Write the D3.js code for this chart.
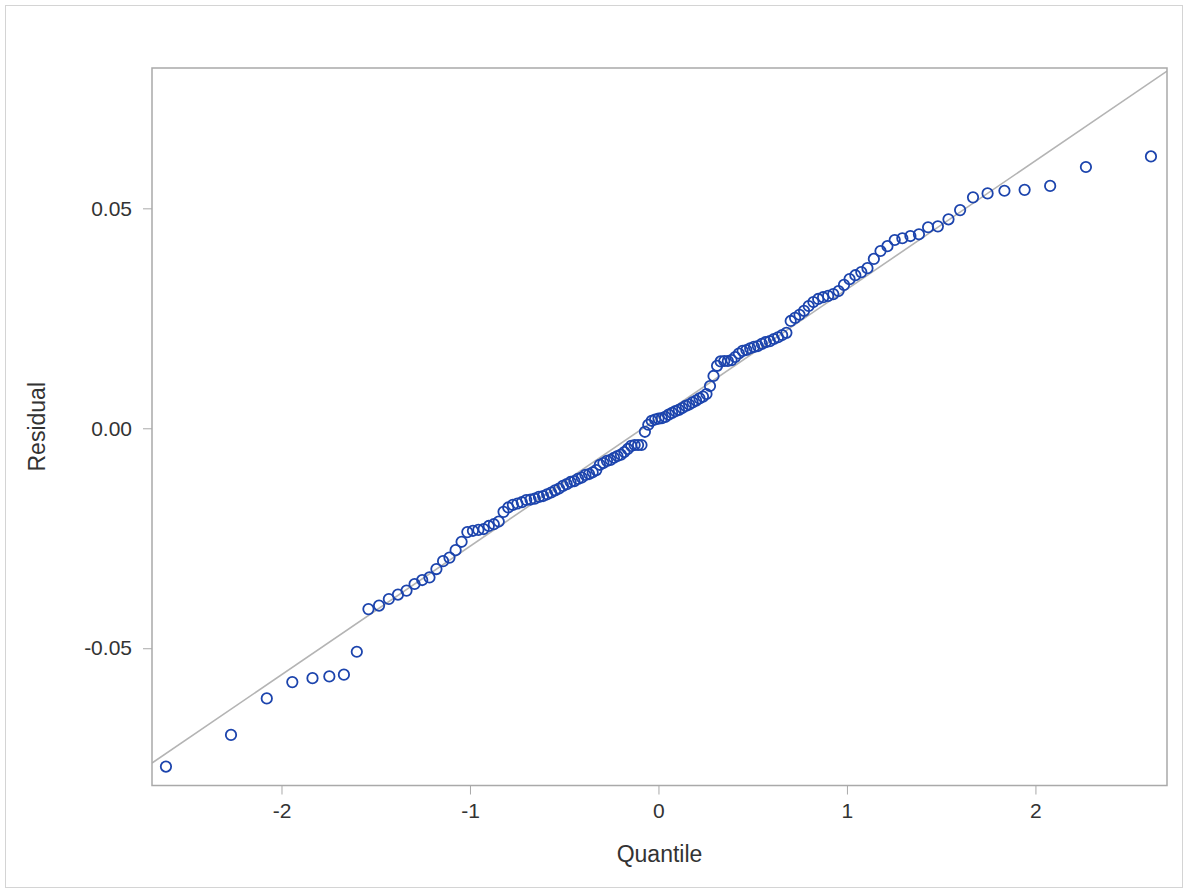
<!DOCTYPE html>
<html>
<head>
<meta charset="utf-8">
<script src="https://cdn.jsdelivr.net/npm/d3@7"></script>
<style>
  body { margin: 0; background: #fff; }
  .tickText { font-family: "Liberation Sans", Arial, sans-serif; font-size: 21px; fill: #333; }
  .labelText { font-family: "Liberation Sans", Arial, sans-serif; font-size: 23px; fill: #333; }
</style>
</head>
<body>
<div id="qq"></div>
<script>
// sorted residuals (139 obs)
var residuals = [
  -0.0769, -0.0697, -0.0614, -0.0577, -0.0568, -0.0564, -0.0560, -0.0508, -0.0411, -0.0403,
  -0.0388, -0.0378, -0.0369, -0.0354, -0.0345, -0.0339, -0.0320, -0.0302, -0.0294, -0.0277,
  -0.0258, -0.0236, -0.0233, -0.0231, -0.0229, -0.0222, -0.0218, -0.0212, -0.0190, -0.0180,
  -0.0174, -0.0171, -0.0168, -0.0163, -0.0162, -0.0160, -0.0156, -0.0154, -0.0150, -0.0146,
  -0.0141, -0.0137, -0.0131, -0.0127, -0.0122, -0.0120, -0.0115, -0.0112, -0.0106, -0.0104,
  -0.0100, -0.0095, -0.0083, -0.0079, -0.0074, -0.0072, -0.0067, -0.0063, -0.0060, -0.0054,
  -0.0047, -0.0040, -0.0038, -0.0038, -0.0038, -0.0008, 0.0008, 0.0017, 0.0020, 0.0022,
  0.0023, 0.0026, 0.0031, 0.0035, 0.0039, 0.0042, 0.0046, 0.0051, 0.0054, 0.0059,
  0.0063, 0.0068, 0.0072, 0.0078, 0.0096, 0.0119, 0.0142, 0.0152, 0.0153, 0.0153,
  0.0155, 0.0162, 0.0170, 0.0176, 0.0178, 0.0182, 0.0185, 0.0187, 0.0192, 0.0196,
  0.0198, 0.0203, 0.0207, 0.0212, 0.0217, 0.0244, 0.0251, 0.0258, 0.0267, 0.0278,
  0.0287, 0.0294, 0.0298, 0.0301, 0.0305, 0.0312, 0.0326, 0.0339, 0.0348, 0.0355,
  0.0364, 0.0385, 0.0403, 0.0414, 0.0428, 0.0432, 0.0437, 0.0441, 0.0457, 0.0459,
  0.0475, 0.0496, 0.0525, 0.0534, 0.0540, 0.0542, 0.0551, 0.0594, 0.0618
];

var xTicks = [-2, -1, 0, 1, 2];
var yTicks = [-0.05, 0, 0.05];
var xDomain = [-2.687, 2.698];
var yDomain = [-0.0812, 0.0819];

// reference line  y = mu + sigma * q
var refIntercept = 0.0024;
var refSlope = 0.02921;

// inverse normal cdf (Acklam)
function qnorm(p) {
  var a = [-3.969683028665376e+01, 2.209460984245205e+02, -2.759285104469687e+02, 1.383577518672690e+02, -3.066479806614716e+01, 2.506628277459239e+00];
  var b = [-5.447609879822406e+01, 1.615858368580409e+02, -1.556989798598866e+02, 6.680131188771972e+01, -1.328068155288572e+01];
  var c = [-7.784894002430293e-03, -3.223964580411365e-01, -2.400758277161838e+00, -2.549732539343734e+00, 4.374664141464968e+00, 2.938163982698783e+00];
  var d = [7.784695709041462e-03, 3.224671290700398e-01, 2.445134137142996e+00, 3.754408661907416e+00];
  var q, r;
  if (p < 0.02425) {
    q = Math.sqrt(-2 * Math.log(p));
    return (((((c[0]*q+c[1])*q+c[2])*q+c[3])*q+c[4])*q+c[5]) / ((((d[0]*q+d[1])*q+d[2])*q+d[3])*q+1);
  }
  if (p > 1 - 0.02425) {
    q = Math.sqrt(-2 * Math.log(1 - p));
    return -(((((c[0]*q+c[1])*q+c[2])*q+c[3])*q+c[4])*q+c[5]) / ((((d[0]*q+d[1])*q+d[2])*q+d[3])*q+1);
  }
  q = p - 0.5;
  r = q * q;
  return (((((a[0]*r+a[1])*r+a[2])*r+a[3])*r+a[4])*r+a[5])*q / (((((b[0]*r+b[1])*r+b[2])*r+b[3])*r+b[4])*r+1);
}

// Blom plotting positions
var n = residuals.length;
var data = residuals.map(function(v, i) {
  return { q: qnorm((i + 1 - 0.375) / (n + 0.25)), r: v };
});

var margin = {top: 68, right: 20, bottom: 104, left: 152},
    width = 1187 - margin.left - margin.right,
    height = 890 - margin.top - margin.bottom - 0.5;

var svg0 = d3.select("#qq")
  .append("svg")
    .attr("width", 1187)
    .attr("height", 890);

// outer border
svg0.append("rect")
  .attr("x", 5.5).attr("y", 5.5)
  .attr("width", 1177).attr("height", 882)
  .attr("fill", "#fff")
  .attr("stroke", "#d4d4d4");

var svg = svg0.append("g")
  .attr("transform", "translate(" + margin.left + "," + margin.top + ")");

var x = d3.scaleLinear().domain(xDomain).range([0, width]);
var y = d3.scaleLinear().domain(yDomain).range([height, 0]);

svg.append("clipPath").attr("id", "clip")
  .append("rect").attr("width", width).attr("height", height);

// plain hyphen for negatives, like the original
function hy(f) { return function(d) { return f(d).replace("\u2212", "-"); }; }

// axes
var xAxis = svg.append("g")
  .attr("transform", "translate(0," + height + ")")
  .call(d3.axisBottom(x).tickValues(xTicks).tickSize(9).tickPadding(9).tickFormat(hy(d3.format("d"))));
var yAxis = svg.append("g")
  .call(d3.axisLeft(y).tickValues(yTicks).tickSize(9).tickPadding(11).tickFormat(hy(d3.format(".2f"))));

[xAxis, yAxis].forEach(function(g) {
  g.select(".domain").remove();
  g.selectAll(".tick line").attr("stroke", "#a9a9a9");
  g.selectAll(".tick text").attr("class", "tickText").attr("fill", null);
});

// reference line
svg.append("line")
  .attr("clip-path", "url(#clip)")
  .attr("x1", x(xDomain[0])).attr("y1", y(refIntercept + refSlope * xDomain[0]))
  .attr("x2", x(xDomain[1])).attr("y2", y(refIntercept + refSlope * xDomain[1]))
  .attr("stroke", "#b4b4b4")
  .attr("stroke-width", 1.6);

svg.append("g")
  .attr("clip-path", "url(#clip)")
  .selectAll("circle")
  .data(data)
  .enter()
  .append("circle")
    .attr("cx", function(d) { return x(d.q); })
    .attr("cy", function(d) { return y(d.r); })
    .attr("r", 5.2)
    .attr("fill", "none")
    .attr("stroke", "#1c44ad")
    .attr("stroke-width", 1.8);

// frame
svg.append("rect")
  .attr("width", width).attr("height", height)
  .attr("fill", "none")
  .attr("stroke", "#a9a9a9")
  .attr("stroke-width", 1.5);

svg.append("text")
  .attr("transform", "rotate(-90)")
  .attr("x", -height / 2)
  .attr("y", 37 - margin.left)
  .attr("dy", "0.35em")
  .attr("text-anchor", "middle")
  .attr("class", "labelText")
  .text("Residual");

svg.append("text")
  .attr("x", width / 2)
  .attr("y", height + 68)
  .attr("dy", "0.35em")
  .attr("text-anchor", "middle")
  .attr("class", "labelText")
  .text("Quantile");
</script>
</body>
</html>
